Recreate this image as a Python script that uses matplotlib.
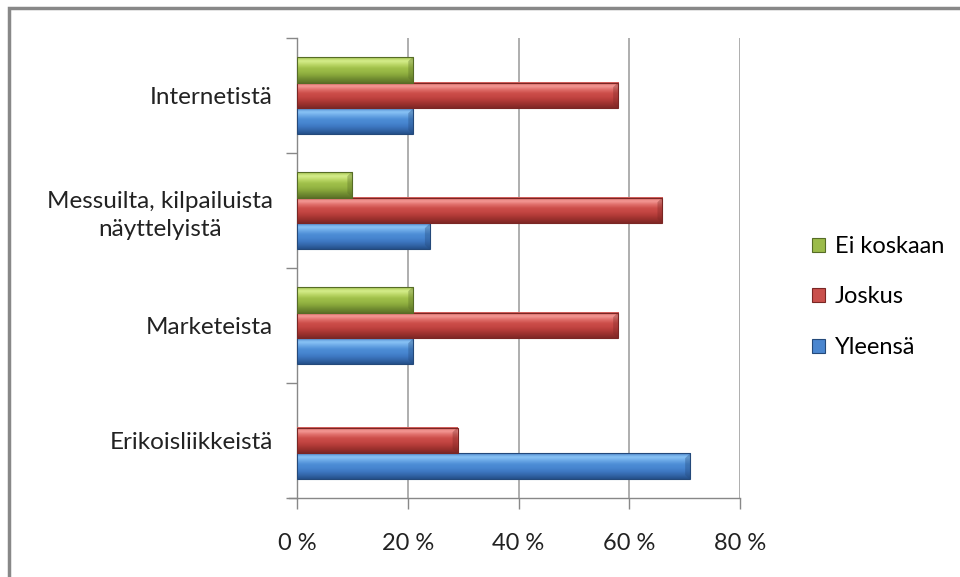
import numpy as np
import matplotlib.pyplot as plt
from matplotlib.colors import LinearSegmentedColormap
from matplotlib.patches import Rectangle, Patch
from matplotlib.ticker import FixedLocator

plt.rcParams["font.family"] = ["Lato", "DejaVu Sans"]

categories = ["Erikoisliikkeistä", "Marketeista",
              "Messuilta, kilpailuista\nnäyttelyistä", "Internetistä"]
series = ["Yleensä", "Joskus", "Ei koskaan"]
yleensa = [71, 21, 24, 21]
joskus = [29, 58, 66, 58]
ei_koskaan = [0, 21, 10, 21]
xticks = [0, 20, 40, 60, 80]
xtick_labels = ["0 %", "20 %", "40 %", "60 %", "80 %"]

values = [yleensa, joskus, ei_koskaan]
# bottom -> top shading of each bar (dark lower edge, light highlight near top)
shades = {
    "Yleensä": ["#25508a", "#3366a8", "#3e78c2", "#4786d0", "#4d8dd6", "#6aa8e6", "#8ac4f6", "#4f88cc"],
    "Joskus": ["#7f2826", "#99302d", "#b23a37", "#c44643", "#cc4d49", "#e06e6a", "#f49a96", "#d05a56"],
    "Ei koskaan": ["#5c7428", "#6f8a30", "#86a43a", "#97b744", "#a0c04a", "#bcd868", "#d6ee8c", "#a6c452"],
}
edge = {"Yleensä": "#24497a", "Joskus": "#7a2624", "Ei koskaan": "#566c26"}
base = {"Yleensä": "#4a86cf", "Joskus": "#c9504c", "Ei koskaan": "#9bbb4a"}

fig = plt.figure(figsize=(9.6, 5.77), dpi=100)
ax = fig.add_axes([297 / 960, 1 - 498 / 577, 443 / 960, 460 / 577])

y = np.arange(len(categories))
h = 0.226
offsets = [-h, 0, h]

for name, vals, off in zip(series, values, offsets):
    bars = ax.barh(y + off, vals, height=h, color=base[name], edgecolor="none", zorder=3)
    cmap = LinearSegmentedColormap.from_list(name, shades[name])
    grad = np.linspace(0, 1, 64).reshape(-1, 1)
    for b in bars:
        w = b.get_width()
        if w <= 0:
            continue
        x0, y0 = b.get_x(), b.get_y()
        y1 = y0 + b.get_height()
        ax.imshow(grad, cmap=cmap, aspect="auto", origin="lower",
                  extent=(x0, x0 + w, y0, y1), zorder=4, interpolation="bicubic")
        # darker bevel at the end of the bar
        cap = 0.9
        ax.fill([x0 + w - cap, x0 + w, x0 + w, x0 + w - cap],
                [y0 + 0.04, y0, y1, y1 - 0.04],
                color=edge[name], alpha=0.35, lw=0, zorder=5)
        ax.add_patch(Rectangle((x0, y0), w, y1 - y0, fill=False,
                               ec=edge[name], lw=0.8, zorder=6))

ax.set_xlim(0, 80)
ax.set_ylim(-0.5, len(categories) - 0.5)
ax.set_xticks(xticks)
ax.set_xticklabels(xtick_labels, fontsize=17, color="#222222")
ax.set_yticks(y)
ax.set_yticklabels(categories, fontsize=17.5, color="#222222",
                   linespacing=1.4, multialignment="center")
ax.yaxis.set_minor_locator(FixedLocator(np.arange(-0.5, len(categories), 1.0)))
ax.tick_params(axis="y", which="major", length=0, pad=17.5)
ax.tick_params(axis="y", which="minor", length=8, width=1, color="#888888")
ax.tick_params(axis="x", length=8, width=1, color="#888888", pad=17)

ax.grid(axis="x", color="#999999", lw=1.1, zorder=0)
for s in ["top", "right"]:
    ax.spines[s].set_visible(False)
for s in ["left", "bottom"]:
    ax.spines[s].set_color("#888888")
    ax.spines[s].set_linewidth(1)
ax.spines["bottom"].set_bounds(-1.45, 80)
ax.set_axisbelow(True)

handles = [Patch(facecolor=base[n], edgecolor=edge[n], lw=0.8) for n in series[::-1]]
ax.legend(handles, series[::-1], loc="center left", bbox_to_anchor=(1.115, 0.437),
          frameon=False, fontsize=17, handlelength=0.55, handleheight=0.55,
          handletextpad=0.4, labelspacing=1.25)

# outer chart frame
fig.patches.append(Rectangle((9 / 960, -0.05), 1.1, 1 - 8 / 577 + 0.05,
                             transform=fig.transFigure, fill=False,
                             ec="#888888", lw=2.5, clip_on=False))

plt.savefig("out.png", dpi=100)
